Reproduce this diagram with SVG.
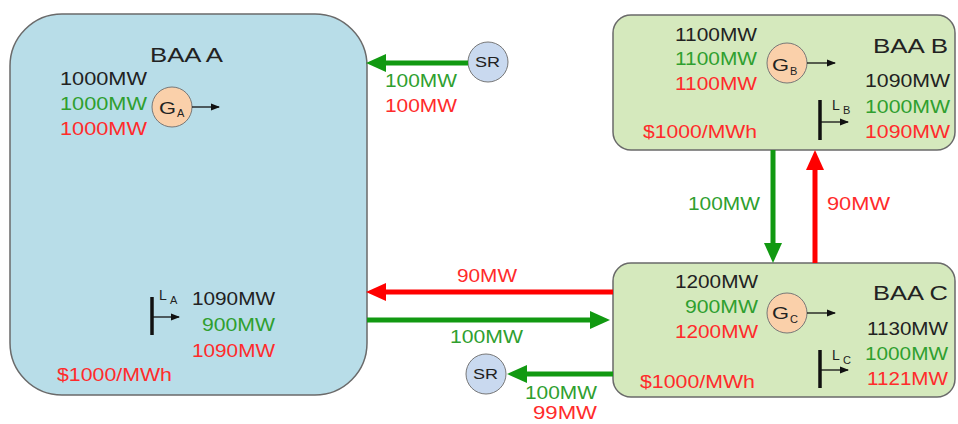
<svg xmlns="http://www.w3.org/2000/svg" width="958" height="424" viewBox="0 0 958 424">
<defs>
<style>
text{font-family:"Liberation Sans",Arial,sans-serif;}
.v{font-size:19px;}
.k{fill:#222;}
.g{fill:#2f9f2f;}
.r{fill:#ff2b2b;}
.t{font-size:21px;fill:#222;}
.baaA{fill:#b8dde8;stroke:#6a6a6a;stroke-width:1.5;}
.baaBC{fill:#d5e9bd;stroke:#6a6a6a;stroke-width:1.5;}
.gen{fill:#fad0aa;stroke:#777;stroke-width:1;}
.sr{fill:#c9d9ef;stroke:#777;stroke-width:1;}
.gl{font-size:17px;fill:#222;}
.ll{font-size:14px;fill:#222;}
.sub{font-size:11px;fill:#222;}
.ga{stroke:#119911;stroke-width:5;fill:none;}
.ra{stroke:#ff0000;stroke-width:5;fill:none;}
.sa{stroke:#111;stroke-width:1.3;fill:none;}
.bar{stroke:#111;stroke-width:3.5;}
</style>
<marker id="hg" markerUnits="userSpaceOnUse" markerWidth="20" markerHeight="20" viewBox="0 0 20 20" refX="0" refY="10" orient="auto"><path d="M0,1 L20,10 L0,19 Z" fill="#119911"/></marker>
<marker id="hr" markerUnits="userSpaceOnUse" markerWidth="20" markerHeight="20" viewBox="0 0 20 20" refX="0" refY="10" orient="auto"><path d="M0,1 L20,10 L0,19 Z" fill="#ff0000"/></marker>
<marker id="hk" markerUnits="userSpaceOnUse" markerWidth="9" markerHeight="9" viewBox="0 0 9 9" refX="8" refY="4.5" orient="auto"><path d="M0,1 L9,4.5 L0,8 Z" fill="#111"/></marker>
</defs>

<g id="baaA">
<rect class="baaA" x="10" y="14" width="357" height="381" rx="52"/>
<text class="t" x="150" y="62" textLength="73" lengthAdjust="spacingAndGlyphs">BAA A</text>
<text class="v k" x="147" y="85" text-anchor="end" textLength="87" lengthAdjust="spacingAndGlyphs">1000MW</text>
<text class="v g" x="147" y="110" text-anchor="end" textLength="87" lengthAdjust="spacingAndGlyphs">1000MW</text>
<text class="v r" x="147" y="135" text-anchor="end" textLength="87" lengthAdjust="spacingAndGlyphs">1000MW</text>
<text class="v k" x="275" y="305" text-anchor="end" textLength="83" lengthAdjust="spacingAndGlyphs">1090MW</text>
<text class="v g" x="275" y="331" text-anchor="end" textLength="73" lengthAdjust="spacingAndGlyphs">900MW</text>
<text class="v r" x="275" y="357" text-anchor="end" textLength="83" lengthAdjust="spacingAndGlyphs">1090MW</text>
<text class="v r" x="57" y="381" textLength="115" lengthAdjust="spacingAndGlyphs">$1000/MWh</text>
</g>

<g id="genA">
<circle class="gen" cx="172" cy="107" r="20"/>
<text class="gl" x="159" y="114" textLength="17" lengthAdjust="spacingAndGlyphs">G</text>
<text class="sub" x="177" y="117">A</text>
<line class="sa" x1="192" y1="107" x2="219" y2="107" marker-end="url(#hk)"/>
</g>

<g id="loadA">
<line class="bar" x1="152" y1="297" x2="152" y2="335"/>
<line class="sa" x1="152" y1="317" x2="179" y2="317" marker-end="url(#hk)"/>
<text class="ll" x="159" y="300">L</text>
<text class="sub" x="170" y="304">A</text>
</g>

<g id="baaB">
<rect class="baaBC" x="613" y="15" width="342" height="135" rx="18"/>
<text class="t" x="873" y="53" textLength="75" lengthAdjust="spacingAndGlyphs">BAA B</text>
<text class="v k" x="757" y="41" text-anchor="end" textLength="82" lengthAdjust="spacingAndGlyphs">1100MW</text>
<text class="v g" x="757" y="65" text-anchor="end" textLength="82" lengthAdjust="spacingAndGlyphs">1100MW</text>
<text class="v r" x="757" y="90" text-anchor="end" textLength="82" lengthAdjust="spacingAndGlyphs">1100MW</text>
<text class="v k" x="950" y="87" text-anchor="end" textLength="85" lengthAdjust="spacingAndGlyphs">1090MW</text>
<text class="v g" x="950" y="113" text-anchor="end" textLength="85" lengthAdjust="spacingAndGlyphs">1000MW</text>
<text class="v r" x="950" y="138" text-anchor="end" textLength="85" lengthAdjust="spacingAndGlyphs">1090MW</text>
<text class="v r" x="643" y="138" textLength="114" lengthAdjust="spacingAndGlyphs">$1000/MWh</text>
</g>

<g id="genB">
<circle class="gen" cx="787" cy="63" r="20"/>
<text class="gl" x="772" y="71" textLength="17" lengthAdjust="spacingAndGlyphs">G</text>
<text class="sub" x="790" y="75">B</text>
<line class="sa" x1="807" y1="63" x2="835" y2="63" marker-end="url(#hk)"/>
</g>

<g id="loadB">
<line class="bar" x1="820" y1="100" x2="820" y2="140"/>
<line class="sa" x1="820" y1="122" x2="848" y2="122" marker-end="url(#hk)"/>
<text class="ll" x="832" y="110">L</text>
<text class="sub" x="843" y="114">B</text>
</g>

<g id="baaC">
<rect class="baaBC" x="613" y="263" width="342" height="134" rx="18"/>
<text class="t" x="873" y="300" textLength="75" lengthAdjust="spacingAndGlyphs">BAA C</text>
<text class="v k" x="758" y="288" text-anchor="end" textLength="83" lengthAdjust="spacingAndGlyphs">1200MW</text>
<text class="v g" x="758" y="313" text-anchor="end" textLength="73" lengthAdjust="spacingAndGlyphs">900MW</text>
<text class="v r" x="758" y="338" text-anchor="end" textLength="83" lengthAdjust="spacingAndGlyphs">1200MW</text>
<text class="v k" x="948" y="335" text-anchor="end" textLength="81" lengthAdjust="spacingAndGlyphs">1130MW</text>
<text class="v g" x="948" y="360" text-anchor="end" textLength="83" lengthAdjust="spacingAndGlyphs">1000MW</text>
<text class="v r" x="948" y="385" text-anchor="end" textLength="81" lengthAdjust="spacingAndGlyphs">1121MW</text>
<text class="v r" x="640" y="388" textLength="115" lengthAdjust="spacingAndGlyphs">$1000/MWh</text>
</g>

<g id="genC">
<circle class="gen" cx="787" cy="313" r="20"/>
<text class="gl" x="772" y="319" textLength="17" lengthAdjust="spacingAndGlyphs">G</text>
<text class="sub" x="790" y="323">C</text>
<line class="sa" x1="807" y1="313" x2="835" y2="313" marker-end="url(#hk)"/>
</g>

<g id="loadC">
<line class="bar" x1="820" y1="350" x2="820" y2="388"/>
<line class="sa" x1="820" y1="370" x2="848" y2="370" marker-end="url(#hk)"/>
<text class="ll" x="832" y="360">L</text>
<text class="sub" x="843" y="364">C</text>
</g>

<g id="sr1">
<circle class="sr" cx="488" cy="62" r="20"/>
<text x="475" y="67" style="font-size:14px;fill:#222" textLength="25" lengthAdjust="spacingAndGlyphs">SR</text>
</g>

<g id="sr2">
<circle class="sr" cx="486" cy="374" r="20"/>
<text x="473" y="379" style="font-size:14px;fill:#222" textLength="25" lengthAdjust="spacingAndGlyphs">SR</text>
</g>

<g id="connectors">
<line class="ga" x1="468" y1="63" x2="386" y2="63" marker-end="url(#hg)"/>
<text class="v g" x="385" y="87" textLength="72" lengthAdjust="spacingAndGlyphs">100MW</text>
<text class="v r" x="385" y="112" textLength="72" lengthAdjust="spacingAndGlyphs">100MW</text>

<line class="ra" x1="613" y1="292" x2="386" y2="292" marker-end="url(#hr)"/>
<text class="v r" x="457" y="282" textLength="60" lengthAdjust="spacingAndGlyphs">90MW</text>

<line class="ga" x1="367" y1="320" x2="590" y2="320" marker-end="url(#hg)"/>
<text class="v g" x="450" y="343" textLength="73" lengthAdjust="spacingAndGlyphs">100MW</text>

<line class="ga" x1="613" y1="374" x2="527" y2="374" marker-end="url(#hg)"/>
<text class="v g" x="525" y="399" textLength="72" lengthAdjust="spacingAndGlyphs">100MW</text>
<text class="v r" x="533" y="419" textLength="64" lengthAdjust="spacingAndGlyphs">99MW</text>

<line class="ga" x1="773" y1="150" x2="773" y2="243" marker-end="url(#hg)"/>
<text class="v g" x="688" y="210" textLength="72" lengthAdjust="spacingAndGlyphs">100MW</text>

<line class="ra" x1="815" y1="263" x2="815" y2="170" marker-end="url(#hr)"/>
<text class="v r" x="827" y="210" textLength="63" lengthAdjust="spacingAndGlyphs">90MW</text>
</g>
</svg>
